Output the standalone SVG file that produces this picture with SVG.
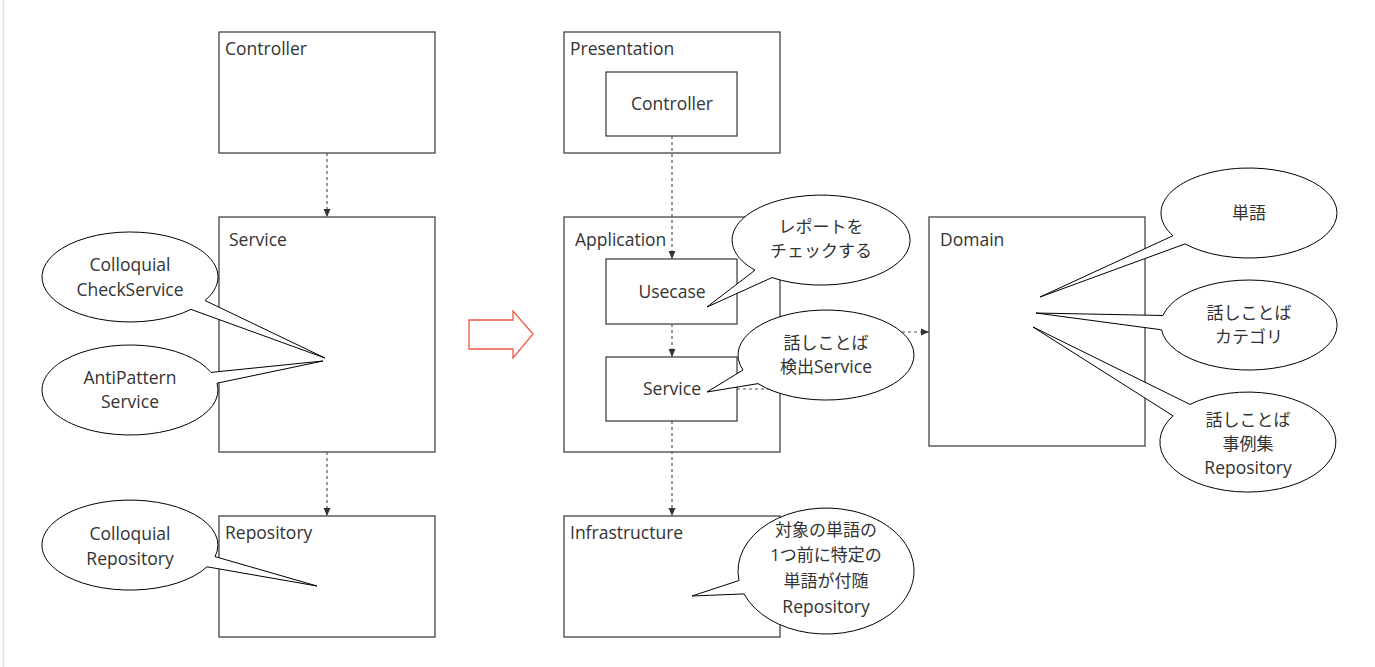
<svg xmlns="http://www.w3.org/2000/svg" width="1375" height="667" viewBox="0 0 1375 667">
<defs>
<style>
.box{fill:#fff;stroke:#444;stroke-width:1.3}
.lbl{font-family:"Open Sans","Noto Sans CJK JP",sans-serif;font-size:17.5px;fill:#333}
.cj{font-size:17px}
.mid{text-anchor:middle}
.call{fill:#fff;stroke:#000;stroke-width:1}
.conn{fill:none;stroke:#555;stroke-width:1.2;stroke-dasharray:3 3}
</style>
<marker id="ah" viewBox="0 0 8 8" refX="8" refY="4" markerWidth="8" markerHeight="8" markerUnits="userSpaceOnUse" orient="auto">
<path d="M0,0.5 L8,4 L0,7.5 Z" fill="#333"/>
</marker>
</defs>
<rect width="1375" height="667" fill="#fff"/>
<line x1="3.5" y1="0" x2="3.5" y2="667" stroke="#e3e3e3" stroke-width="1.5"/>

<g id="left-controller"><rect class="box" x="219" y="32" width="216" height="121"/><text class="lbl" x="225" y="55">Controller</text></g>
<g id="left-service"><rect class="box" x="219" y="217" width="216" height="235"/><text class="lbl" x="229" y="246">Service</text></g>
<g id="left-repository"><rect class="box" x="219" y="516" width="216" height="121"/><text class="lbl" x="225" y="539">Repository</text></g>

<g id="presentation"><rect class="box" x="564" y="32" width="216" height="121"/><text class="lbl" x="570" y="55">Presentation</text></g>
<g id="pres-controller"><rect class="box" x="606" y="72" width="131" height="64"/><text class="lbl mid" x="672" y="110">Controller</text></g>
<g id="application"><rect class="box" x="564" y="217" width="216" height="235"/><text class="lbl" x="575" y="246">Application</text></g>
<g id="usecase"><rect class="box" x="606" y="259" width="131" height="65"/><text class="lbl mid" x="672" y="298">Usecase</text></g>
<g id="app-service"><rect class="box" x="606" y="357" width="131" height="64"/><text class="lbl mid" x="672" y="395">Service</text></g>
<g id="infrastructure"><rect class="box" x="564" y="516" width="216" height="121"/><text class="lbl" x="570" y="539">Infrastructure</text></g>
<g id="domain"><rect class="box" x="929" y="217" width="216" height="229"/><text class="lbl" x="940" y="246">Domain</text></g>

<g id="transform-arrow"><path d="M469,320 L513,320 L513,311 L533,334 L513,358 L513,349 L469,349 Z" fill="#fff" stroke="#ef5a44" stroke-width="1.3"/></g>

<g id="connectors">
<path class="conn" d="M327,153 L327,217" marker-end="url(#ah)"/>
<path class="conn" d="M327,452 L327,516" marker-end="url(#ah)"/>
<path class="conn" d="M672,136 L672,259" marker-end="url(#ah)"/>
<path class="conn" d="M672,324 L672,357" marker-end="url(#ah)"/>
<path class="conn" d="M672,421 L672,516" marker-end="url(#ah)"/>
<path class="conn" d="M737,389 L833,389 L833,332 L929,332" marker-end="url(#ah)"/>
</g>

<g id="callout-colloquial-check"><path class="call" d="M205,300.5 L325,358 L191,309.4 A88,45 0 1 1 205,300.5 Z"/><text class="lbl mid" x="130" y="271">Colloquial</text><text class="lbl mid" x="130" y="296">CheckService</text></g>
<g id="callout-antipattern"><path class="call" d="M211,372.4 L323,361 L217,383.2 A88,45 0 1 1 211,372.4 Z"/><text class="lbl mid" x="130" y="384">AntiPattern</text><text class="lbl mid" x="130" y="408">Service</text></g>
<g id="callout-colloquial-repo"><path class="call" d="M215,556.6 L317,586 L207,566.8 A88,45 0 1 1 215,556.6 Z"/><text class="lbl mid" x="130" y="540">Colloquial</text><text class="lbl mid" x="130" y="565">Repository</text></g>

<g id="callout-report"><path class="call" d="M755,270.2 L707,307 L772,277.6 A89,45 0 1 0 755,270.2 Z"/><text class="lbl cj mid" x="821" y="233">レポートを</text><text class="lbl cj mid" x="821" y="257">チェックする</text></g>
<g id="callout-detect"><path class="call" d="M743,370 L707,392 L758,383.6 A88,45 0 1 0 743,370 Z"/><text class="lbl cj mid" x="826" y="349">話しことば</text><text class="lbl mid" x="826" y="373"><tspan class="cj">検出</tspan>Service</text></g>
<g id="callout-infra"><path class="call" d="M739,580.5 L692,596 L744,593.9 A88,63 0 1 0 739,580.5 Z"/><text class="lbl cj mid" x="826" y="536">対象の単語の</text><text class="lbl cj mid" x="826" y="561">1つ前に特定の</text><text class="lbl cj mid" x="826" y="587">単語が付随</text><text class="lbl mid" x="826" y="613">Repository</text></g>

<g id="callout-word"><path class="call" d="M1173,235.7 L1040,297 L1185,243.9 A88,45 0 1 0 1173,235.7 Z"/><text class="lbl cj mid" x="1249" y="219">単語</text></g>
<g id="callout-category"><path class="call" d="M1163,315.5 L1036,313 L1161.5,329.8 A88,45 0 1 0 1163,315.5 Z"/><text class="lbl cj mid" x="1249" y="319">話しことば</text><text class="lbl cj mid" x="1249" y="343">カテゴリ</text></g>
<g id="callout-cases"><path class="call" d="M1190,404.4 L1033,327 L1173,415.8 A88,50 0 1 0 1190,404.4 Z"/><text class="lbl cj mid" x="1248" y="426">話しことば</text><text class="lbl cj mid" x="1248" y="450">事例集</text><text class="lbl mid" x="1248" y="474">Repository</text></g>
</svg>
